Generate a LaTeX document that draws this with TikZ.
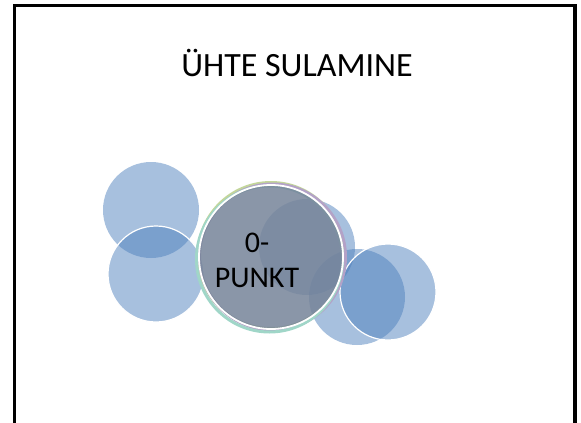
\documentclass[tikz,border=0pt]{standalone}
\usepackage{fontspec}
\setmainfont{Carlito}
\definecolor{bubbleblue}{RGB}{79,129,189}
\definecolor{hubgrey}{RGB}{118,132,153}
\definecolor{rimgreen}{RGB}{195,214,155}
\definecolor{rimviolet}{RGB}{179,162,199}
\definecolor{rimteal}{RGB}{160,214,200}

\begin{document}
\begin{tikzpicture}[x=1pt,y=-1pt,
        bubble/.style={circle,fill=bubbleblue,fill opacity=0.5,
                       minimum size=96pt,inner sep=0pt},
        rimmed/.style={bubble,draw=white,draw opacity=1,line width=1.2pt},
        rim/.style={circle,draw=#1,line width=3pt,
                    minimum size=146pt,inner sep=0pt},
        hub/.style={circle,fill=hubgrey,fill opacity=0.85,draw=white,
                    draw opacity=1,line width=1.8pt,
                    minimum size=144pt,inner sep=0pt}]
  \useasboundingbox (0,0) rectangle (581,423);
  % frame, open at the bottom
  \draw[line width=3.2pt] (14.5,423) |- (575,5.7) -- (575,423);
  \node[anchor=base] (title) at (297,76.5)
        {\fontsize{34}{40}\selectfont ÜHTE SULAMINE};
  % bubbles round the centre
  \node[bubble] (tl) at (151,210) {};
  \node[rimmed] (bl) at (156,274) {};
  \node[bubble] (tr) at (307,247) {};
  \node[bubble] (br) at (357,297) {};
  \node[rimmed] (rr) at (388,292) {};
  % coloured rims behind the centre
  \node[rim=rimgreen]  (rg) at (271,255.5) {};
  \node[rim=rimviolet] (rv) at (272.5,257) {};
  \node[rim=rimteal]   (rt) at (269.5,259) {};
  \node[hub] (hub) at (271,257) {};
  \node[align=center,font=\fontsize{30}{35}\selectfont] (punkt) at (257,260)
        {0-\\PUNKT};
\end{tikzpicture}
\end{document}
